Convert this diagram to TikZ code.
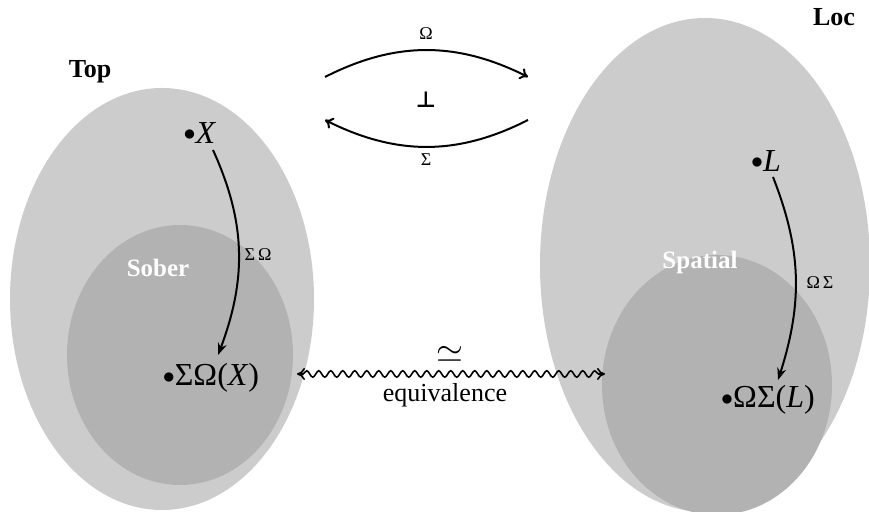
\documentclass[tikz,border=0pt]{standalone}
\usepackage{fontspec}
\setmainfont{Liberation Serif}
\newfontfamily\symfont{DejaVu Sans}
\usetikzlibrary{arrows.meta,decorations.pathmorphing,bending}
\newcommand{\pt}{\raisebox{1.3pt}{\fontsize{11.5}{13}\selectfont$\bullet$}}
\tikzset{
  outerset/.style={fill=gray!40},
  innerset/.style={fill=gray!60},
  catlabel/.style={font=\fontsize{13}{15}\selectfont\bfseries},
  sublabel/.style={font=\fontsize{12.5}{14}\selectfont\bfseries, text=white},
  pointlabel/.style={font=\fontsize{16}{18}\selectfont, inner sep=1pt},
  arrlabel/.style={font=\fontsize{9}{11}\selectfont},
  maparrow/.style={line width=1pt, -{Stealth[length=6pt,width=4.5pt,bend]}},
  adjarrow/.style={line width=1pt, -{To[length=4pt,width=6pt]}},
}
\begin{document}
\begin{tikzpicture}[x=0.5pt,y=0.5pt]
\useasboundingbox (0,0) rectangle (869,512);
% sets
\fill[outerset] (162,213) ellipse [x radius=76pt, y radius=105.5pt];
\fill[innerset] (180,157) ellipse [x radius=56.5pt, y radius=65pt];
\fill[outerset] (705,247) ellipse [x radius=82.5pt, y radius=123.5pt];
\fill[innerset] (717,127) ellipse [x radius=57.5pt, y radius=65pt];
% category labels
\node[catlabel] (top) at (90,440) {Top};
\node[catlabel] (loc) at (834,495) {Loc};
\node[sublabel] (sober) at (158,244) {Sober};
\node[sublabel] (spatial) at (700,249) {Spatial};
% points
\node[pointlabel] (X) at (200,379) {\pt\textit{X}};
\node[pointlabel] (SOX) at (211,134) {\pt ΣΩ(\textit{X})};
\node[pointlabel] (L) at (766,351) {\pt\textit{L}};
\node[pointlabel] (OSL) at (768,112) {\pt ΩΣ(\textit{L})};
% unit arrows
\coordinate (xs) at (213,362);
\coordinate (xe) at (218,157);
\draw[maparrow] (xs) to[bend left=23] (xe);
\node[arrlabel] (so) at (258,257) {Σ\,Ω};
\coordinate (ls) at (773,335);
\coordinate (le) at (778,132);
\draw[maparrow] (ls) to[bend left=20] (le);
\node[arrlabel] (os) at (820,229) {Ω\,Σ};
% adjunction
\coordinate (a1) at (325,435);
\coordinate (a2) at (528,435);
\coordinate (b1) at (528,392);
\coordinate (b2) at (325,392);
\draw[adjarrow] (a1) to[bend left=27] (a2);
\draw[adjarrow] (b1) to[bend left=27] (b2);
\node[arrlabel] (om) at (426,478) {Ω};
\node[arrlabel] (sg) at (426,352) {Σ};
\node[font=\symfont\bfseries\fontsize{11}{13}\selectfont] (perp) at (426,412) {⊥};
% equivalence
\coordinate (e1) at (297,138);
\coordinate (e2) at (605,138);
\draw[line width=0.8pt, {To[length=4pt,width=6pt]}-{To[length=4pt,width=6pt]}, decorate,
  decoration={snake, amplitude=1.6pt, segment length=6pt, pre length=3pt, post length=3pt}] (e1) -- (e2);
\node[font=\fontsize{17}{19}\selectfont] (simeq) at (450,158) {$\simeq$};
\node[font=\fontsize{13}{15}\selectfont] (equiv) at (445,117) {equivalence};
\end{tikzpicture}
\end{document}
